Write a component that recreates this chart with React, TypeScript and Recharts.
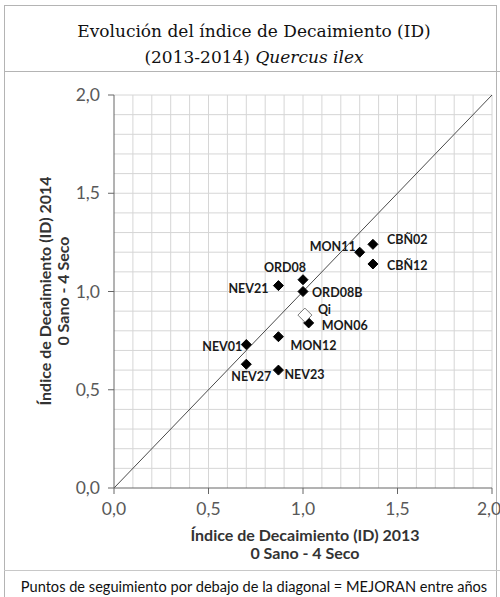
import { ReferenceLine, Scatter, ScatterChart, XAxis, YAxis } from 'recharts'

// Seguimiento sites: ID 2013 (x) vs ID 2014 (y)
const sites = ['NEV01', 'NEV27', 'NEV23', 'NEV21', 'MON12', 'ORD08', 'ORD08B', 'MON06', 'MON11', 'CBÑ02', 'CBÑ12']
const id2013 = [0.7, 0.7, 0.87, 0.87, 0.87, 1.0, 1.0, 1.03, 1.3, 1.37, 1.37]
const id2014 = [0.73, 0.63, 0.6, 1.03, 0.77, 1.06, 1.0, 0.84, 1.2, 1.24, 1.14]

// Quercus ilex mean
const meanNames = ['Qi']
const mean2013 = [1.01]
const mean2014 = [0.88]

const axisTicks = [0, 0.5, 1, 1.5, 2]
const gridSteps = [
  0.1, 0.2, 0.3, 0.4, 0.5, 0.6, 0.7, 0.8, 0.9, 1.0,
  1.1, 1.2, 1.3, 1.4, 1.5, 1.6, 1.7, 1.8, 1.9, 2.0,
]

type Anchor = 'start' | 'middle' | 'end'
const labelPlacement: Record<string, { dx: number; dy: number; anchor: Anchor }> = {
  NEV01: { dx: -4, dy: 2, anchor: 'end' },
  NEV27: { dx: 5, dy: 12, anchor: 'middle' },
  NEV23: { dx: 6, dy: 4, anchor: 'start' },
  NEV21: { dx: -10, dy: 3, anchor: 'end' },
  MON12: { dx: 12, dy: 9, anchor: 'start' },
  ORD08: { dx: -18, dy: -12, anchor: 'middle' },
  ORD08B: { dx: 9, dy: 1, anchor: 'start' },
  MON06: { dx: 13, dy: 3, anchor: 'start' },
  MON11: { dx: -4, dy: -6, anchor: 'end' },
  'CBÑ02': { dx: 14, dy: -5, anchor: 'start' },
  'CBÑ12': { dx: 14, dy: 2, anchor: 'start' },
  Qi: { dx: 13, dy: -6, anchor: 'start' },
}

const siteData = sites.map((name, i) => ({ name, x: id2013[i], y: id2014[i] }))
const meanData = meanNames.map((name, i) => ({ name, x: mean2013[i], y: mean2014[i] }))

const fmt = (v: number) => v.toFixed(1).replace('.', ',')
const SANS = 'Lato, "Open Sans", sans-serif'
const GRID = '#d6d6d6'

function Diamond(props: any) {
  const { cx, cy, payload, r, fill, stroke } = props
  if (cx == null || cy == null) return null
  const p = labelPlacement[payload?.name] ?? { dx: 8, dy: 0, anchor: 'start' }
  return (
    <g>
      <polygon
        points={`${cx},${cy - r} ${cx + r},${cy} ${cx},${cy + r} ${cx - r},${cy}`}
        fill={fill}
        stroke={stroke}
        strokeWidth={1}
      />
      <text
        x={cx + p.dx}
        y={cy + p.dy}
        textAnchor={p.anchor}
        dominantBaseline="central"
        fontFamily={SANS}
        fontWeight={700}
        fontSize={12.5}
        fill="#1a1a1a"
      >
        {payload?.name}
      </text>
    </g>
  )
}

export default function App() {
  return (
    <div
      style={{
        position: 'relative',
        width: 500,
        height: 597,
        overflow: 'hidden',
        background: '#fff',
      }}
    >
      <style>{'body{margin:0}'}</style>
      <div
        style={{
          position: 'absolute',
          left: 4,
          top: 5,
          width: 493,
          height: 620,
          border: '1px solid #b4b4b4',
          boxSizing: 'border-box',
        }}
      />
      <div style={{ position: 'absolute', left: 4, top: 71, width: 500, height: 1, background: '#b4b4b4' }} />
      <div style={{ position: 'absolute', left: 4, top: 570, width: 500, height: 1, background: '#c8c8c8' }} />

      <div
        style={{
          position: 'absolute',
          left: 4,
          top: 18,
          width: 500,
          textAlign: 'center',
          fontFamily: '"DejaVu Serif", serif',
          fontSize: 17,
          lineHeight: '26px',
          color: '#111',
        }}
      >
        <div>Evolución del índice de Decaimiento (ID)</div>
        <div>
          (2013-2014) <i>Quercus ilex</i>
        </div>
      </div>

      <ScatterChart
        width={500}
        height={597}
        margin={{ top: 95, right: 8, bottom: 79, left: 54 }}
        style={{ position: 'absolute', left: 0, top: 0 }}
      >
        <XAxis
          type="number"
          dataKey="x"
          domain={[0, 2]}
          ticks={axisTicks}
          tickFormatter={fmt}
          allowDataOverflow
          height={30}
          tickSize={6}
          tickMargin={9}
          tick={{ fontSize: 17.5, fill: '#595959', fontFamily: SANS }}
          axisLine={{ stroke: '#666' }}
          tickLine={{ stroke: '#666' }}
        />
        <YAxis
          type="number"
          dataKey="y"
          domain={[0, 2]}
          ticks={axisTicks}
          tickFormatter={fmt}
          allowDataOverflow
          width={60}
          tickSize={6}
          tickMargin={8}
          tick={{ fontSize: 17.5, fill: '#595959', fontFamily: SANS }}
          axisLine={{ stroke: '#666' }}
          tickLine={{ stroke: '#666' }}
        />
        {gridSteps.map((v) => (
          <ReferenceLine key={`gx${v}`} x={v} stroke={GRID} strokeWidth={1} ifOverflow="visible" />
        ))}
        {gridSteps.map((v) => (
          <ReferenceLine key={`gy${v}`} y={v} stroke={GRID} strokeWidth={1} ifOverflow="visible" />
        ))}
        <ReferenceLine
          segment={[
            { x: 0, y: 0 },
            { x: 2, y: 2 },
          ]}
          stroke="#4a4a4a"
          strokeWidth={1}
          ifOverflow="visible"
        />
        <Scatter
          data={siteData}
          isAnimationActive={false}
          shape={(p: any) => <Diamond {...p} r={5} fill="#000" stroke="#000" />}
        />
        <Scatter
          data={meanData}
          isAnimationActive={false}
          shape={(p: any) => <Diamond {...p} r={7} fill="#fff" stroke="#7a7a7a" />}
        />
      </ScatterChart>

      <div
        style={{
          position: 'absolute',
          left: 116,
          top: 526,
          width: 378,
          textAlign: 'center',
          fontFamily: SANS,
          fontWeight: 700,
          fontSize: 16,
          lineHeight: '18px',
          color: '#333',
        }}
      >
        <div>Índice de Decaimiento (ID) 2013</div>
        <div>0 Sano - 4 Seco</div>
      </div>

      <div
        style={{
          position: 'absolute',
          left: 54 - 140,
          top: 291 - 18,
          width: 280,
          height: 36,
          transform: 'rotate(-90deg)',
          transformOrigin: 'center',
          textAlign: 'center',
          fontFamily: SANS,
          fontWeight: 700,
          fontSize: 16,
          lineHeight: '18px',
          color: '#333',
        }}
      >
        <div>Índice de Decaimiento (ID) 2014</div>
        <div>0 Sano - 4 Seco</div>
      </div>

      <div
        style={{
          position: 'absolute',
          left: 4,
          top: 577,
          width: 500,
          textAlign: 'center',
          fontFamily: SANS,
          fontSize: 14.6,
          lineHeight: '20px',
          color: '#111',
        }}
      >
        Puntos de seguimiento por debajo de la diagonal = MEJORAN entre años
      </div>
    </div>
  )
}
